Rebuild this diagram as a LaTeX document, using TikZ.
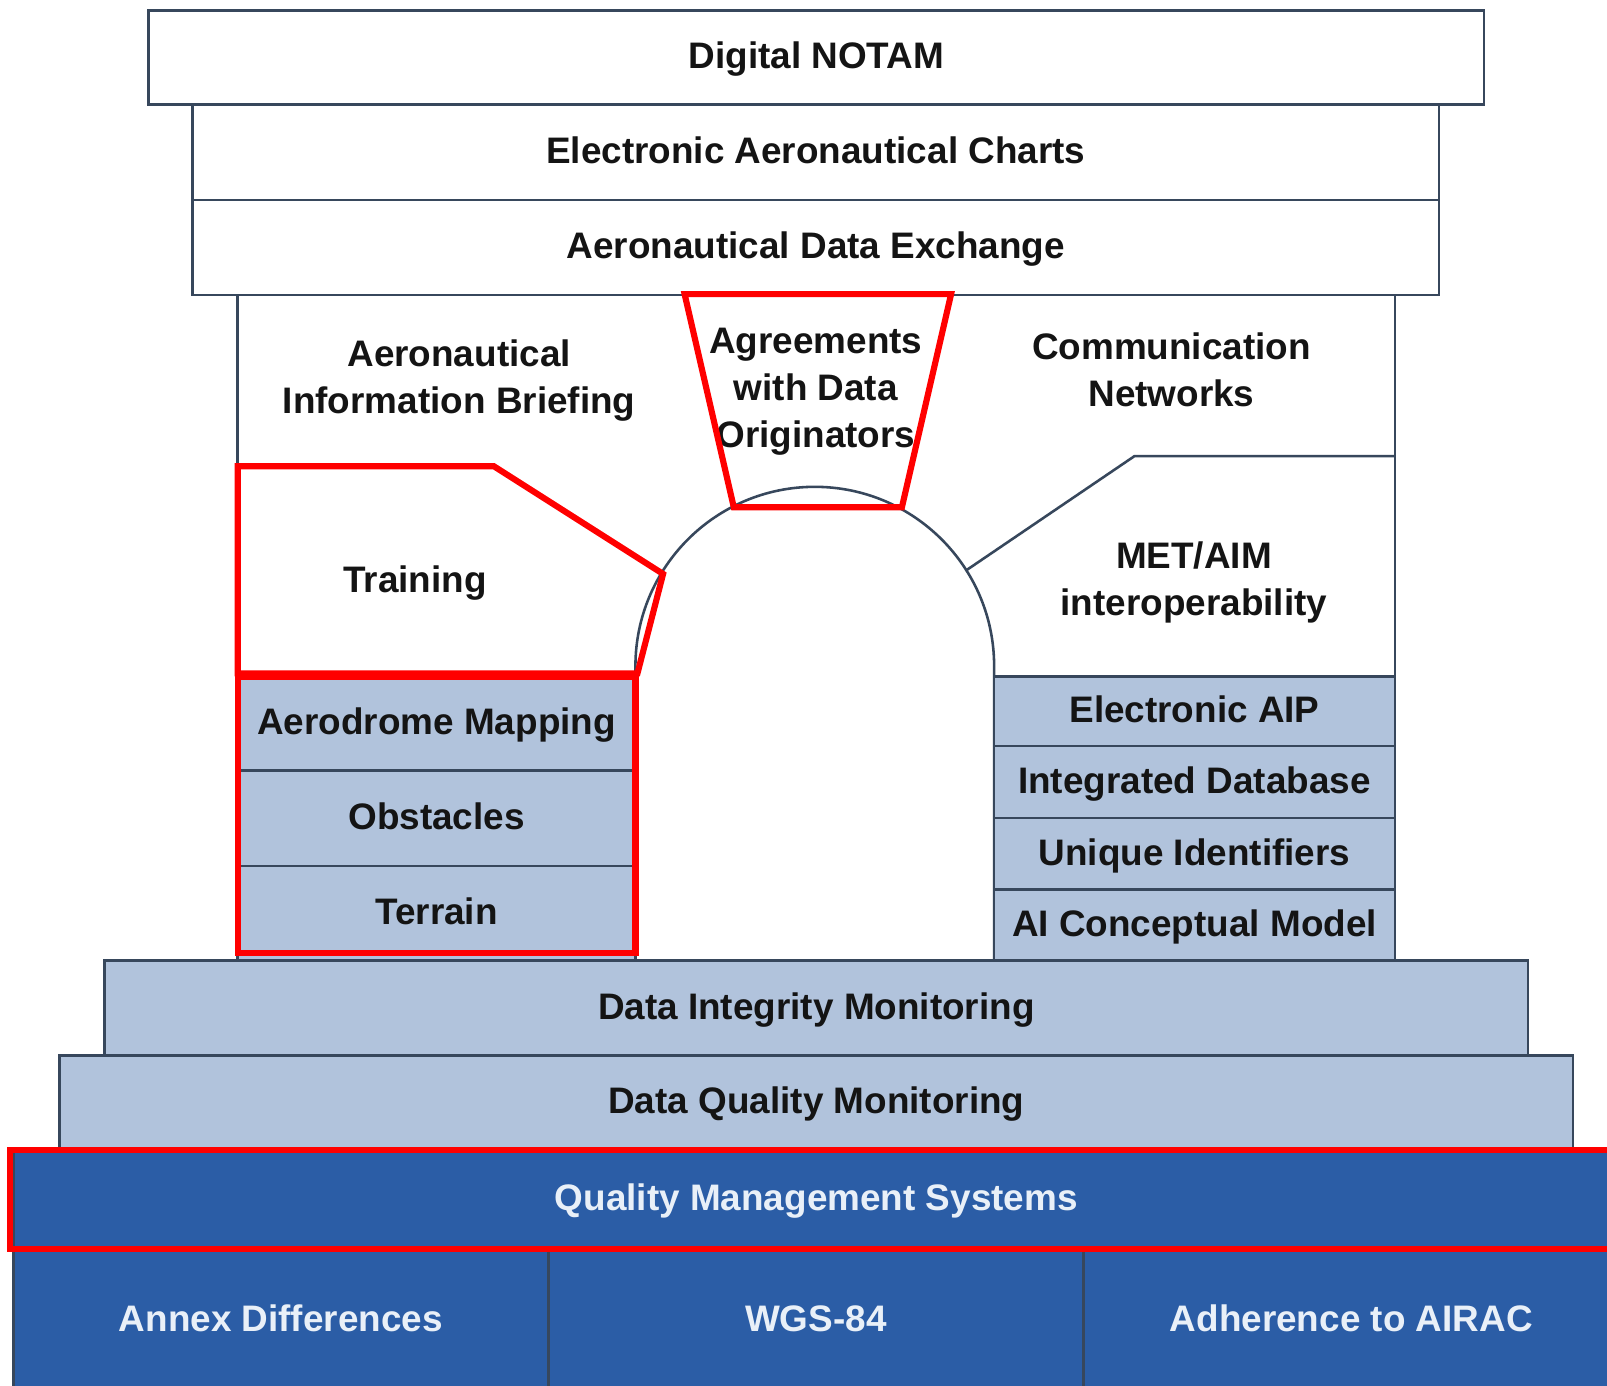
\documentclass[tikz,border=0pt]{standalone}
\usepackage{fontspec}
\setmainfont{Liberation Sans}
\definecolor{edge}{HTML}{37475C}
\definecolor{paleblue}{HTML}{B1C3DC}
\definecolor{deepblue}{HTML}{2B5DA6}
\definecolor{hilite}{HTML}{FF0000}
\definecolor{ink}{HTML}{141414}
\definecolor{paleink}{HTML}{E9F0F8}
\begin{document}
\begin{tikzpicture}[x=1pt,y=-1pt]
\tikzset{
  txt/.style={font=\bfseries\fontsize{36}{46}\selectfont, text=ink, align=center, inner sep=0pt},
  onel/.style={txt, text height=26pt, text depth=4pt},
  layer/.style={draw=edge, line width=2.5pt, inner sep=0pt, outer sep=0pt, onel},
  whitelayer/.style={layer, fill=white},
  palelayer/.style={layer, fill=paleblue},
  deeplayer/.style={layer, fill=deepblue, text=paleink, draw=edge},
  hilight/.style={draw=hilite, line width=6pt, line join=miter},
  divider/.style={draw=edge, line width=2.5pt},
}
\useasboundingbox (0,0) rectangle (1568,1352);
\fill[white] (0,0) rectangle (1568,1352);

% top layers
\node[whitelayer, minimum width=1303pt, minimum height=92pt] (notam) at (796.5,56) {Digital NOTAM};
\node[whitelayer, minimum width=1216pt, minimum height=93pt] (charts) at (796,148.5) {Electronic Aeronautical Charts};
\node[whitelayer, minimum width=1216pt, minimum height=93pt] (adx) at (796,241.5) {Aeronautical Data Exchange};

% pillar sides
\coordinate (ptl) at (232,288);
\coordinate (pbl) at (232,937);
\coordinate (ptr) at (1361,288);
\coordinate (pbr) at (1361,937);
\draw[divider] (ptl) -- (pbl);
\draw[divider] (ptr) -- (pbr);

% arch
\coordinate (archl) at (620,937);
\coordinate (archr) at (970,937);
\draw[divider] (archl) -- (620,650) arc[start angle=180, end angle=360, radius=175] -- (archr);

% right divider
\coordinate (metjoin) at (942,557);
\coordinate (metbend) at (1107,445);
\coordinate (metend) at (1361,445);
\draw[divider] (metjoin) -- (metbend) -- (metend);

% left column blocks
\node[palelayer, minimum width=388pt, minimum height=92pt] (aero) at (426,706) {Aerodrome Mapping};
\node[palelayer, minimum width=388pt, minimum height=93pt] (obst) at (426,798.5) {Obstacles};
\node[palelayer, minimum width=388pt, minimum height=92pt] (terr) at (426,891) {Terrain};

% right column blocks
\node[palelayer, minimum width=391pt, minimum height=68pt] (eaip) at (1165.5,694) {Electronic AIP};
\node[palelayer, minimum width=391pt, minimum height=70pt] (idb) at (1165.5,763) {Integrated Database};
\node[palelayer, minimum width=391pt, minimum height=70pt] (uid) at (1165.5,833) {Unique Identifiers};
\node[palelayer, minimum width=391pt, minimum height=69pt] (aicm) at (1165.5,902.5) {AI Conceptual Model};

% free text regions
\node[txt] (aib) at (448,371) {Aeronautical\\Information Briefing};
\node[txt] (agr) at (796,382) {Agreements\\with Data\\Originators};
\node[txt] (comm) at (1143,361) {Communication\\Networks};
\node[txt] (met) at (1165,568) {MET/AIM\\interoperability};
\node[onel] (train) at (405,567) {Training};

% base layers
\node[palelayer, minimum width=1389pt, minimum height=93pt] (integ) at (796.5,983.5) {Data Integrity Monitoring};
\node[palelayer, minimum width=1477pt, minimum height=90pt] (qual) at (796.5,1075) {Data Quality Monitoring};
\node[deeplayer, minimum width=1567pt, minimum height=100pt] (qms) at (796.5,1170) {Quality Management Systems};
\node[deeplayer, minimum width=522pt, minimum height=136pt] (annex) at (274,1288) {Annex Differences};
\node[deeplayer, minimum width=522pt, minimum height=136pt] (wgs) at (796,1288) {WGS-84};
\node[deeplayer, minimum width=523pt, minimum height=136pt] (airac) at (1318.5,1288) {Adherence to AIRAC};

% red highlights
\draw[hilight] (232,455) -- (482,455) -- (647,560) -- (622,657) -- (232,657) -- cycle;
\draw[hilight] (232,660) rectangle (620,930);
\draw[hilight] (668,287) -- (928,287) -- (880,495) -- (716,495) -- cycle;
\draw[hilight] (10,1122) rectangle (1590,1219);
\end{tikzpicture}
\end{document}
